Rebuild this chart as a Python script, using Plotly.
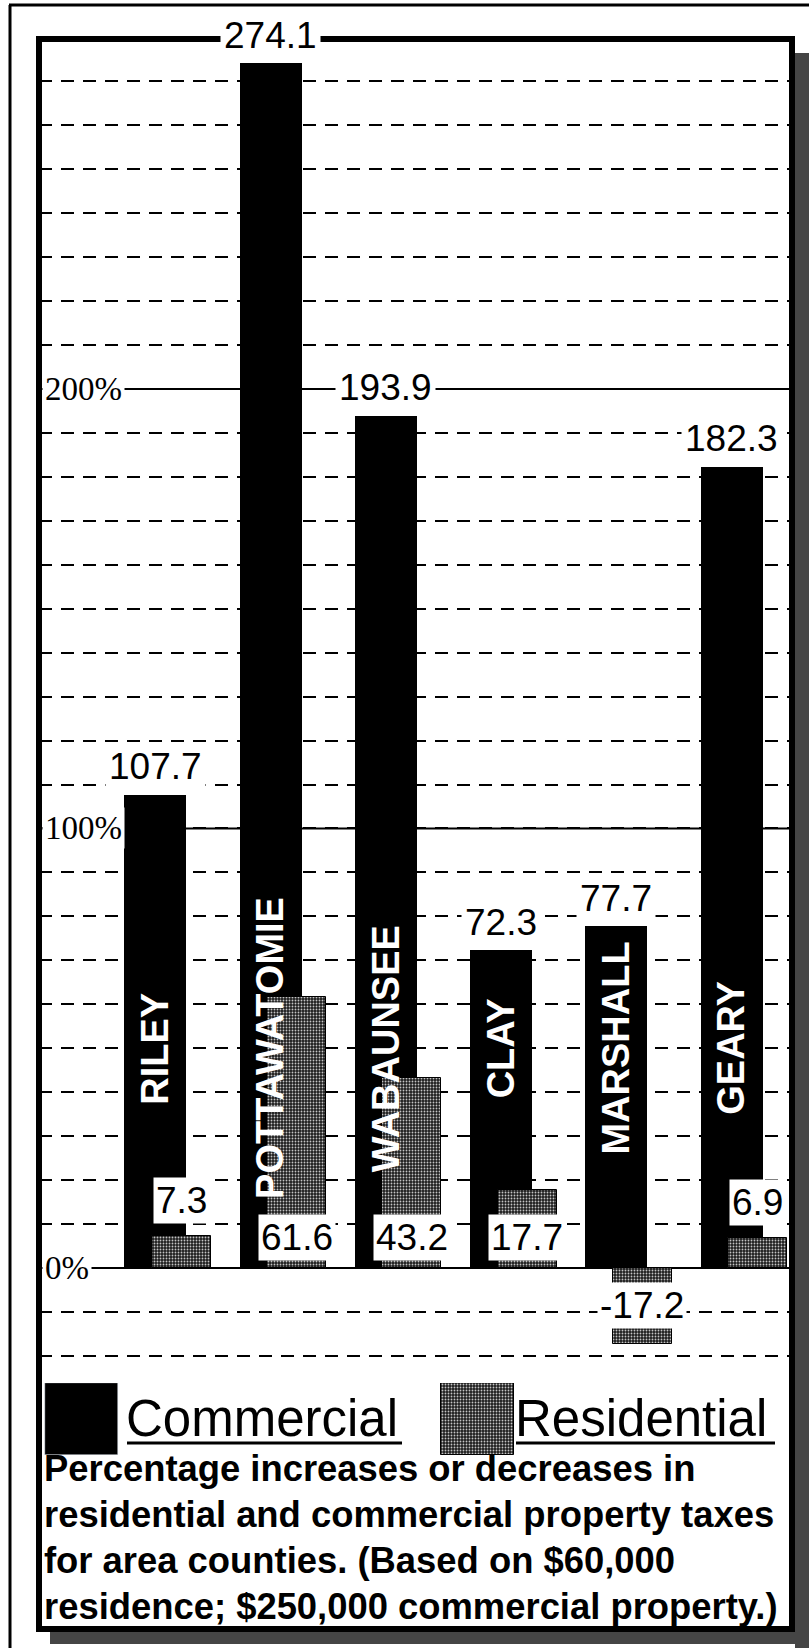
import plotly.graph_objects as go

# ---- data -------------------------------------------------------------
counties = ["RILEY", "POTTAWATOMIE", "WABAUNSEE", "CLAY", "MARSHALL", "GEARY"]
commercial = [107.7, 274.1, 193.9, 72.3, 77.7, 182.3]
residential = [7.3, 61.6, 43.2, 17.7, -17.2, 6.9]

axis_ticks = [0, 100, 200]
axis_tick_labels = ["0%", "100%", "200%"]
grid_step = 10

legend_names = ["Commercial", "Residential"]
caption_lines = [
    "Percentage increases or decreases in",
    "residential and commercial property taxes",
    "for area counties. (Based on $60,000",
    "residence; $250,000 commercial property.)",
]

# ---- page geometry (pixels) ------------------------------------------
FIG_W, FIG_H = 809, 1648
LEFT, RIGHT, TOP, BOTTOM = 39, 792, 39, 1629      # inner framed box
PW, PH = RIGHT - LEFT, BOTTOM - TOP
CHART_BOTTOM = 1370                                # bottom of the bar area


def pxx(x):
    return (x - LEFT) / PW


def pxy(y):
    return (BOTTOM - y) / PH


X_RANGE = [-1.011, 5.525]
Y_RANGE = [-23.2, 279.6]
COM_W = 0.538
RES_W = 0.512
RES_OFFSET = 0.226

SANS = "Liberation Sans, Arial, Helvetica, sans-serif"
SERIF = "Liberation Serif, Times New Roman, serif"

stipple = dict(shape=".", fgcolor="#c4c4c4", bgcolor="#1e1e1e",
               size=3, solidity=0.3, fillmode="replace")

x_com = list(range(len(counties)))
x_res = [i + RES_OFFSET for i in x_com]

fig = go.Figure()

fig.add_bar(x=x_com, y=commercial, width=COM_W, name=legend_names[0],
            marker=dict(color="#000000", line=dict(width=0)),
            hoverinfo="skip", showlegend=False)
fig.add_bar(x=x_res, y=residential, width=RES_W, name=legend_names[1],
            marker=dict(color="#1e1e1e", pattern=stipple,
                        line=dict(color="#000000", width=1)),
            hoverinfo="skip", showlegend=False)

# legend swatches on their own pixel-unit axes
sw_y0, sw_y1 = 1383, 1455
swatch_left = [45, 441]
swatch_w = 73
fig.add_bar(x=[swatch_left[0] + swatch_w / 2], y=[1], width=[swatch_w],
            xaxis="x2", yaxis="y2", marker=dict(color="#000000"),
            hoverinfo="skip", showlegend=False)
fig.add_bar(x=[swatch_left[1] + swatch_w / 2], y=[1], width=[swatch_w],
            xaxis="x2", yaxis="y2",
            marker=dict(color="#1e1e1e", pattern=stipple,
                        line=dict(color="#000000", width=1)),
            hoverinfo="skip", showlegend=False)

annotations = []
shapes = []

# percent labels on the left with solid reference lines
for v, lab in zip(axis_ticks, axis_tick_labels):
    shapes.append(dict(type="line", xref="paper", yref="y", x0=0, x1=1,
                       y0=v, y1=v, line=dict(color="#000000", width=2),
                       layer="below"))
    annotations.append(dict(x=pxx(42), y=v, xref="paper", yref="y",
                            xanchor="left", yanchor="middle", text=lab,
                            showarrow=False, bgcolor="#ffffff", borderpad=2,
                            font=dict(family=SERIF, size=33, color="#000000")))

# commercial values above the bars
for i, v in enumerate(commercial):
    annotations.append(dict(x=x_com[i], y=v, xref="x", yref="y",
                            xanchor="center", yanchor="middle", yshift=28,
                            text=f"{v:.1f}", showarrow=False,
                            bgcolor="#ffffff", borderpad=3,
                            font=dict(family=SANS, size=37, color="#000000")))


def res_label_y(v):
    if v < 0:
        return v / 2
    if v < 12:
        return v + 8
    return 7


for i, v in enumerate(residential):
    annotations.append(dict(x=x_res[i], y=res_label_y(v), xref="x", yref="y",
                            xanchor="center", yanchor="middle",
                            text=f"{v:.1f}", showarrow=False,
                            bgcolor="#ffffff", borderpad=2,
                            font=dict(family=SANS, size=37, color="#000000")))

# county names written up the commercial bars
for i, name in enumerate(counties):
    annotations.append(dict(x=x_com[i], y=50, xref="x", yref="y",
                            textangle=-90, text=f"<b>{name}</b>",
                            showarrow=False,
                            font=dict(family=SANS, size=38, color="#ffffff")))

# legend text with underlines
legend_text_left = [127, 516]
legend_text_right = [402, 775]
for name, xl, xr in zip(legend_names, legend_text_left, legend_text_right):
    annotations.append(dict(x=pxx(xl - 3), y=pxy(1418), xref="paper",
                            yref="paper", xanchor="left", yanchor="middle",
                            text=name, showarrow=False,
                            font=dict(family=SANS, size=51, color="#000000")))
    shapes.append(dict(type="line", xref="paper", yref="paper",
                       x0=pxx(xl), x1=pxx(xr), y0=pxy(1443), y1=pxy(1443),
                       line=dict(color="#000000", width=3)))

# caption
caption_mid = [1468, 1514, 1560, 1606]
for line, ym in zip(caption_lines, caption_mid):
    annotations.append(dict(x=pxx(42), y=pxy(ym), xref="paper",
                            yref="paper", xanchor="left", yanchor="middle",
                            text=f"<b>{line}</b>", showarrow=False,
                            font=dict(family=SANS, size=36.4,
                                      color="#000000")))

# frame, drop shadow and outer rule
shapes += [
    dict(type="rect", xref="paper", yref="paper",
         x0=pxx(795), x1=pxx(809), y0=pxy(1648), y1=pxy(53),
         fillcolor="#454545", line=dict(width=0), layer="above"),
    dict(type="rect", xref="paper", yref="paper",
         x0=pxx(50), x1=pxx(809), y0=pxy(1644), y1=pxy(1632),
         fillcolor="#454545", line=dict(width=0), layer="above"),
    dict(type="rect", xref="paper", yref="paper", x0=0, x1=1, y0=0, y1=1,
         line=dict(color="#000000", width=6), layer="above"),
    dict(type="line", xref="paper", yref="paper",
         x0=pxx(9), x1=pxx(809), y0=pxy(5), y1=pxy(5),
         line=dict(color="#000000", width=3), layer="above"),
    dict(type="line", xref="paper", yref="paper",
         x0=pxx(10), x1=pxx(10), y0=pxy(1648), y1=pxy(5),
         line=dict(color="#000000", width=3), layer="above"),
]

fig.update_layout(
    width=FIG_W, height=FIG_H,
    margin=dict(l=LEFT, r=FIG_W - RIGHT, t=TOP, b=FIG_H - BOTTOM, pad=0),
    paper_bgcolor="#ffffff", plot_bgcolor="#ffffff",
    barmode="overlay", bargap=0, showlegend=False,
    xaxis=dict(range=X_RANGE, domain=[0, 1], showgrid=False, zeroline=False,
               showticklabels=False, ticks="", fixedrange=True),
    yaxis=dict(range=Y_RANGE, domain=[pxy(CHART_BOTTOM), 1],
               tick0=0, dtick=grid_step, showgrid=True,
               gridcolor="#000000", gridwidth=2, griddash="13px,9px",
               zeroline=False, showticklabels=False, ticks="",
               fixedrange=True),
    xaxis2=dict(range=[LEFT, RIGHT], domain=[0, 1], anchor="y2",
                visible=False, fixedrange=True),
    yaxis2=dict(range=[0, 1], domain=[pxy(sw_y1), pxy(sw_y0)], anchor="x2",
                visible=False, fixedrange=True),
    annotations=annotations,
    shapes=shapes,
)

fig.write_html("out.html")
